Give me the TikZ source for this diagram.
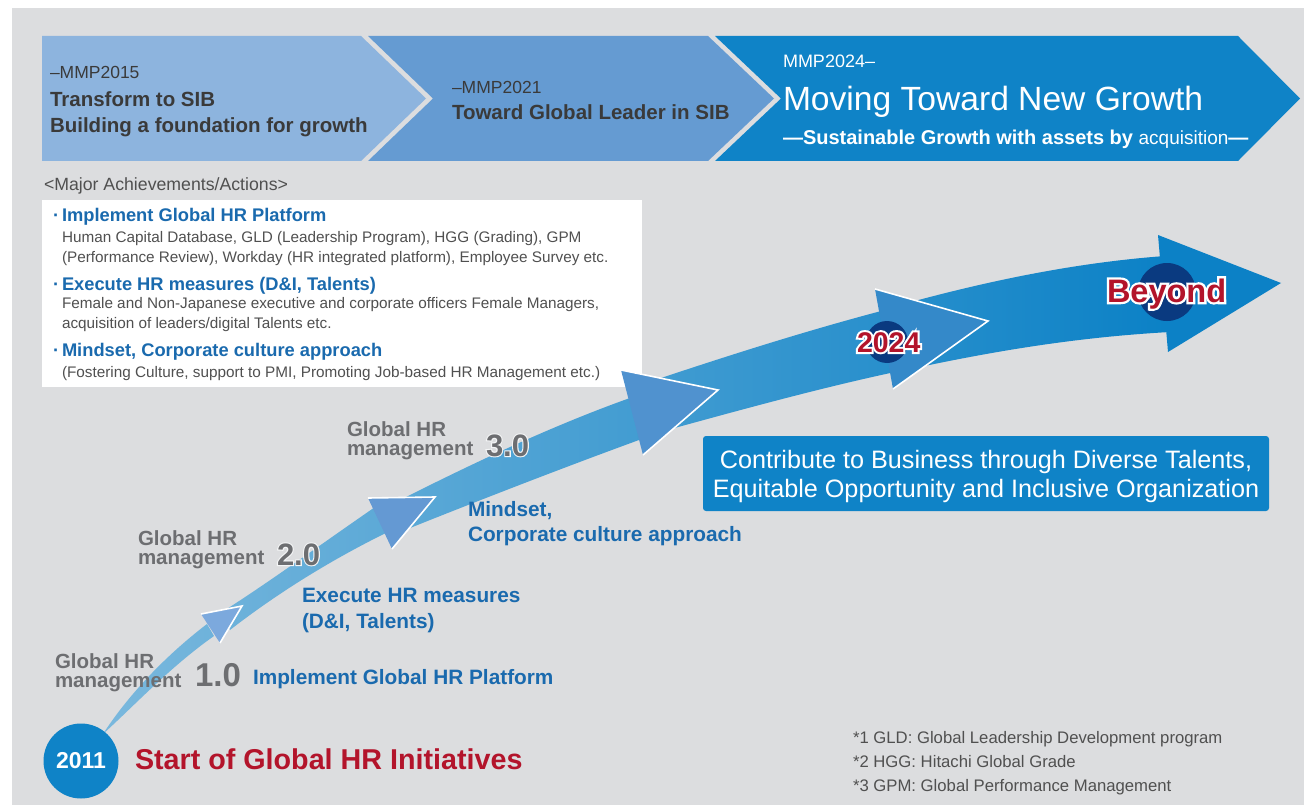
\documentclass[tikz,border=0pt]{standalone}
\usepackage{fontspec}
\setmainfont{Liberation Sans}
\newfontfamily\haloA[FakeBold=14]{Liberation Sans Bold}
\newfontfamily\haloB[FakeBold=7]{Liberation Sans Bold}
\usetikzlibrary{calc}
\definecolor{bg}{HTML}{DCDDDF}
\definecolor{chA}{HTML}{8DB4DE}
\definecolor{chB}{HTML}{659BD2}
\definecolor{chC}{HTML}{0F83C7}
\definecolor{chtxt}{HTML}{3A3A3A}
\definecolor{navy}{HTML}{0A3A80}
\definecolor{hred}{HTML}{B3142B}
\definecolor{hblue}{HTML}{1A6AAE}
\definecolor{lgrey}{HTML}{6D6E71}
\definecolor{subg}{HTML}{505050}
\definecolor{bandL}{HTML}{7AB8DD}
\definecolor{bandR}{HTML}{0B81C6}
\definecolor{hA}{HTML}{7CA9DD}
\definecolor{hB}{HTML}{6499D3}
\definecolor{hC}{HTML}{5092CF}
\definecolor{hD}{HTML}{3489C9}
\definecolor{hE}{HTML}{0C81C6}
\definecolor{ghost}{HTML}{F4F5F6}
\newcommand\fsz[1]{\fontsize{#1}{#1}\selectfont}
\begin{document}
\begin{tikzpicture}[x=1pt,y=-1pt,
  txt/.style={anchor=base west, inner sep=0pt, outer sep=0pt},
  ctxt/.style={anchor=base, inner sep=0pt, outer sep=0pt},
  headedge/.style={draw=white, line width=1.6pt}]
\useasboundingbox (0,0) rectangle (1304,805);
% background
\fill[white] (0,0) rectangle (1304,805);
\fill[bg] (12,8) rectangle (1304,805);
% chevrons
\fill[chA] (42,36) -- (361,36) -- (426,98.5) -- (361,161) -- (42,161) -- cycle;
\fill[chB] (368,36) -- (708,36) -- (774,98.5) -- (708,161) -- (368,161) -- (433,98.5) -- cycle;
\fill[chC] (715,36) -- (1238,36) -- (1300,98.5) -- (1238,161) -- (715,161) -- (781,98.5) -- cycle;
% banner texts
\node[txt, font=\fsz{17.5}, text=chtxt] (m15) at (50,79) {–MMP2015};
\node[txt, font=\bfseries\fsz{20.5}, text=chtxt] (t15a) at (50,107) {Transform to SIB};
\node[txt, font=\bfseries\fsz{20.5}, text=chtxt] (t15b) at (50,133) {Building a foundation for growth};
\node[txt, font=\fsz{17.5}, text=chtxt] (m21) at (452,94) {–MMP2021};
\node[txt, font=\bfseries\fsz{20.5}, text=chtxt] (t21) at (452,120) {Toward Global Leader in SIB};
\node[txt, font=\fsz{18}, text=white] (m24) at (783,68) {MMP2024–};
\node[txt, font=\fsz{33.6}, text=white] (t24) at (783,111) {Moving Toward New Growth};
\node[txt, font=\bfseries\fsz{20}, text=white] (s24) at (783,145) {—Sustainable Growth with assets by {\mdseries\fsz{19}acquisition}—};
% achievements
\node[txt, font=\fsz{17.7}, text=subg] (major) at (44,191) {<Major Achievements/Actions>};
\fill[white] (42,200) rectangle (642,387);
\node[txt, font=\bfseries\fsz{18.3}, text=hblue] (b1) at (53,222) {·};
\node[txt, font=\bfseries\fsz{18.3}, text=hblue] (h1) at (62,222) {Implement Global HR Platform};
\node[txt, font=\fsz{15.3}, text=subg] (s1a) at (62,243) {Human Capital Database, GLD (Leadership Program), HGG (Grading), GPM};
\node[txt, font=\fsz{15.3}, text=subg] (s1b) at (62,262) {(Performance Review), Workday (HR integrated platform), Employee Survey etc.};
\node[txt, font=\bfseries\fsz{18.3}, text=hblue] (b2) at (53,290) {·};
\node[txt, font=\bfseries\fsz{18.3}, text=hblue] (h2) at (62,290) {Execute HR measures (D\&I, Talents)};
\node[txt, font=\fsz{15.3}, text=subg] (s2a) at (62,308) {Female and Non-Japanese executive and corporate officers Female Managers,};
\node[txt, font=\fsz{15.3}, text=subg] (s2b) at (62,328) {acquisition of leaders/digital Talents etc.};
\node[txt, font=\bfseries\fsz{18.3}, text=hblue] (b3) at (53,356) {·};
\node[txt, font=\bfseries\fsz{18.3}, text=hblue] (h3) at (62,356) {Mindset, Corporate culture approach};
\node[txt, font=\fsz{15.3}, text=subg] (s3a) at (62,377) {(Fostering Culture, support to PMI, Promoting Job-based HR Management etc.)};
% band
\shade[left color=bandL, right color=bandR]
 (103,734) .. controls (125,700) and (160,660) .. (207,624) -- (214,636) .. controls (170,667) and (135,705) .. (103,734) -- cycle
 (222,612) .. controls (265,585) and (320,545) .. (378,505) -- (392,530) .. controls (330,560) and (275,595) .. (230,630) -- cycle
 (400,500) .. controls (450,475) and (540,430) .. (630,398) -- (650,436) .. controls (570,465) and (480,500) .. (410,528) -- cycle
 (640,385) .. controls (700,365) and (790,335) .. (885,310) -- (895,372) .. controls (820,388) and (740,410) .. (660,432) -- cycle
 (900,305) .. controls (980,283) and (1070,263) .. (1165,256) -- (1170,332) .. controls (1080,337) and (1000,350) .. (915,368) -- cycle;
% arrow heads
\fill[hA] (201,614) -- (242,606) -- (220,643) -- cycle;
\draw[headedge] (201,614) -- (242,606) -- (220,643);
\fill[hB] (368,498) -- (435,497) -- (392,549) -- cycle;
\draw[headedge] (368,498) -- (435,497) -- (392,549);
\fill[hC] (621,370) -- (718,390) -- (643,455) -- cycle;
\draw[headedge] (621,370) -- (718,390) -- (643,455);
\fill[hD] (875,289) -- (988,321) -- (893,389) -- cycle;
\draw[headedge] (875,289) -- (988,321) -- (893,389);
\fill[hE] (1158,235) -- (1281,283) -- (1168,352) -- cycle;
% circles on arrow
\fill[navy] (887,342) circle (21);
\fill[navy] (1167,292) circle (29);
\node[txt, font=\haloA\fsz{28.5}, text=white] (y2024h) at (857,352) {2024};
\node[txt, font=\bfseries\fsz{28.5}, text=hred] (y2024) at (857,352) {2024};
\node[txt, font=\haloA\fsz{32.5}, text=white] (beyondh) at (1107,302) {Beyond};
\node[txt, font=\bfseries\fsz{32.5}, text=hred] (beyond) at (1107,302) {Beyond};
% goal box
\fill[chC, rounded corners=3pt] (703,436) rectangle (1269,511);
\node[ctxt, font=\fsz{25.2}, text=white] (g1) at (986,468) {Contribute to Business through Diverse Talents,};
\node[ctxt, font=\fsz{25.2}, text=white] (g2) at (986,497) {Equitable Opportunity and Inclusive Organization};
% stage labels
\node[txt, font=\bfseries\fsz{20.5}, text=lgrey] (l1a) at (55,668) {Global HR};
\node[txt, font=\bfseries\fsz{20.5}, text=lgrey] (l1b) at (55,687) {management};
\node[txt, font=\bfseries\fsz{33}, text=lgrey] (l1c) at (195,686) {1.0};
\node[txt, font=\bfseries\fsz{20.5}, text=lgrey] (l2a) at (138,545.5) {Global HR};
\node[txt, font=\bfseries\fsz{20.5}, text=lgrey] (l2b) at (138,564.5) {management};
\node[txt, font=\haloB\fsz{31}, text=ghost] (l2ch) at (277,565) {2.0};
\node[txt, font=\bfseries\fsz{31}, text=lgrey] (l2c) at (277,565) {2.0};
\node[txt, font=\bfseries\fsz{20.5}, text=lgrey] (l3a) at (347,436.5) {Global HR};
\node[txt, font=\bfseries\fsz{20.5}, text=lgrey] (l3b) at (347,455.5) {management};
\node[txt, font=\haloB\fsz{31}, text=ghost] (l3ch) at (486,456) {3.0};
\node[txt, font=\bfseries\fsz{31}, text=lgrey] (l3c) at (486,456) {3.0};
% blue stage texts
\node[txt, font=\bfseries\fsz{20.8}, text=hblue] (p1) at (253,684) {Implement Global HR Platform};
\node[txt, font=\bfseries\fsz{20.8}, text=hblue] (p2a) at (302,602) {Execute HR measures};
\node[txt, font=\bfseries\fsz{20.8}, text=hblue] (p2b) at (302,628) {(D\&I, Talents)};
\node[txt, font=\bfseries\fsz{20.8}, text=hblue] (p3a) at (468,516) {Mindset,};
\node[txt, font=\bfseries\fsz{20.8}, text=hblue] (p3b) at (468,541) {Corporate culture approach};
% start
\fill[chC] (81,761) circle (37.5);
\node[font=\bfseries\fsz{23}, text=white, inner sep=0pt] (y2011) at (81,761) {2011};
\node[txt, font=\bfseries\fsz{28.7}, text=hred] (start) at (135,769) {Start of Global HR Initiatives};
% footnotes
\node[txt, font=\fsz{16.7}, text=subg] (f1) at (853,743) {*1 GLD: Global Leadership Development program};
\node[txt, font=\fsz{16.7}, text=subg] (f2) at (853,767) {*2 HGG: Hitachi Global Grade};
\node[txt, font=\fsz{16.7}, text=subg] (f3) at (853,791) {*3 GPM: Global Performance Management};
\end{tikzpicture}
\end{document}
